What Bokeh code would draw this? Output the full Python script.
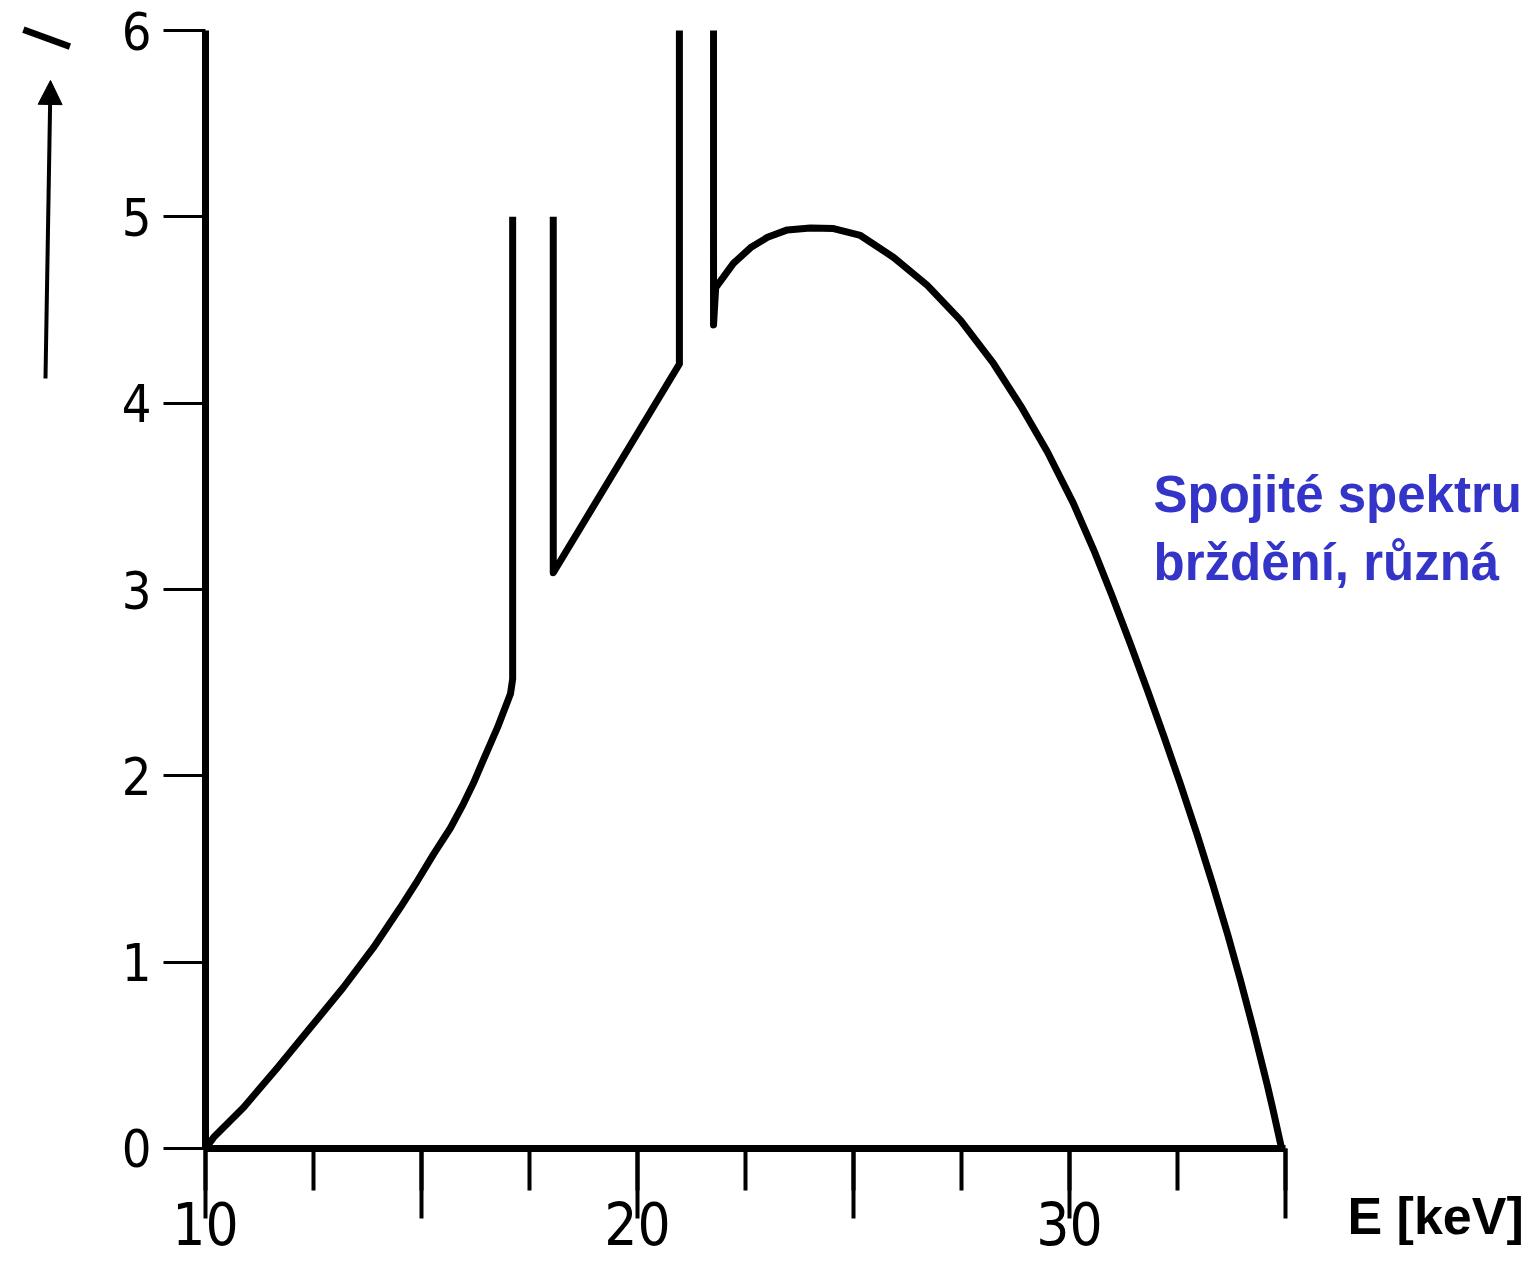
from bokeh.plotting import figure
from bokeh.models import Range1d, LinearAxis, SingleIntervalTicker, Arrow, NormalHead
from bokeh.core.properties import value
from bokeh.embed import file_html
from bokeh.resources import INLINE

# ---- data (energy in keV, intensity in arbitrary units) ----
# continuum up to the first characteristic line, then the line itself
part1_E = [10.0, 10.19, 10.88, 11.67, 12.43, 13.19, 13.89, 14.51, 14.91, 15.28, 15.67,
           15.97, 16.20, 16.44, 16.76, 17.06, 17.11, 17.11]
part1_I = [0.0, 0.06, 0.22, 0.435, 0.649, 0.864, 1.079, 1.293, 1.438, 1.58, 1.72,
           1.85, 1.96, 2.09, 2.26, 2.44, 2.52, 5.0]
# second line, continuum between the line pairs, third line
part2_E = [18.05, 18.05, 20.97, 20.97]
part2_I = [5.0, 3.09, 4.21, 6.0]
# fourth line and the continuum down to the cut-off energy
part3_E = [21.76, 21.76, 21.81, 22.22, 22.62, 23.01, 23.47, 24.00, 24.54, 25.16, 25.93,
           26.71, 27.48, 28.24, 28.87, 29.49, 30.09, 30.56, 30.98, 31.41, 31.81, 32.18,
           32.57, 32.96, 33.33, 33.66, 33.96, 34.26, 34.58, 34.72, 34.91]
part3_I = [6.0, 4.42, 4.62, 4.75, 4.835, 4.89, 4.93, 4.94, 4.937, 4.90, 4.782,
           4.632, 4.444, 4.213, 3.986, 3.738, 3.462, 3.213, 2.969, 2.707, 2.455, 2.215,
           1.954, 1.681, 1.407, 1.150, 0.901, 0.637, 0.339, 0.199, 0.0]

x_bounds = (10, 35)
y_bounds = (0, 6)
x_label_overrides = {15: "", 25: "", 35: ""}
x_title = "E [keV]"
y_title = "I"
note_lines = ["Spojité spektru", "brždění, různá"]

# ---- figure ----
p = figure(width=1528, height=1263,
           x_range=Range1d(5.2546, 40.625), y_range=Range1d(-0.6172, 6.1611),
           output_backend="svg", toolbar_location=None,
           x_axis_location=None, y_axis_location=None, min_border=0)
p.grid.visible = False
p.outline_line_color = None
p.background_fill_color = "white"
p.border_fill_color = "white"

tick_font = "DejaVu Sans Condensed"

xaxis = LinearAxis(fixed_location=0, bounds=x_bounds,
                   ticker=SingleIntervalTicker(interval=5, num_minor_ticks=2))
xaxis.axis_line_width = 7
xaxis.axis_line_color = "black"
xaxis.major_tick_out = 70
xaxis.major_tick_in = 0
xaxis.minor_tick_out = 42
xaxis.minor_tick_in = 0
xaxis.major_tick_line_width = 4
xaxis.minor_tick_line_width = 4
xaxis.major_tick_line_color = "black"
xaxis.minor_tick_line_color = "black"
xaxis.major_label_overrides = x_label_overrides
xaxis.major_label_text_font = tick_font
xaxis.major_label_text_font_size = "58px"
xaxis.major_label_text_color = "black"
xaxis.major_label_standoff = -16
p.add_layout(xaxis, "below")

yaxis = LinearAxis(fixed_location=10, bounds=y_bounds,
                   ticker=SingleIntervalTicker(interval=1, num_minor_ticks=0))
yaxis.axis_line_width = 7
yaxis.axis_line_color = "black"
yaxis.major_tick_out = 42
yaxis.major_tick_in = 0
yaxis.minor_tick_line_color = None
yaxis.major_tick_line_width = 3
yaxis.major_tick_line_color = "black"
yaxis.major_label_text_font = tick_font
yaxis.major_label_text_font_size = "52px"
yaxis.major_label_text_color = "black"
yaxis.major_label_standoff = 12
p.add_layout(yaxis, "left")

# ---- spectrum ----
for ex, iy in ((part1_E, part1_I), (part2_E, part2_I), (part3_E, part3_I)):
    p.line(ex, iy, line_color="black", line_width=7, line_join="round")

# ---- texts ----
p.text(x=[36.435], y=[-0.36], text=[x_title], text_font=value("Liberation Sans"),
       text_font_style="bold", text_font_size="52px", text_color="black",
       text_align="left", text_baseline="alphabetic")

p.text(x=[31.944, 31.944], y=[3.51, 3.145], text=note_lines,
       text_font=value("Liberation Sans"), text_font_style="bold",
       text_font_size="51px", text_color="#3434C8",
       text_align="left", text_baseline="alphabetic")

p.text(x=[6.32], y=[5.96], text=[y_title], text_font=value("Liberation Sans"),
       text_font_size="72px", text_color="black", angle=70, angle_units="deg",
       text_align="center", text_baseline="middle")

p.add_layout(Arrow(x_start=6.296, y_start=4.132, x_end=6.412, y_end=5.732,
                   line_width=4, line_color="black",
                   end=NormalHead(size=24, fill_color="black", line_color="black")))

open("out.html", "w").write(file_html(p, INLINE))
